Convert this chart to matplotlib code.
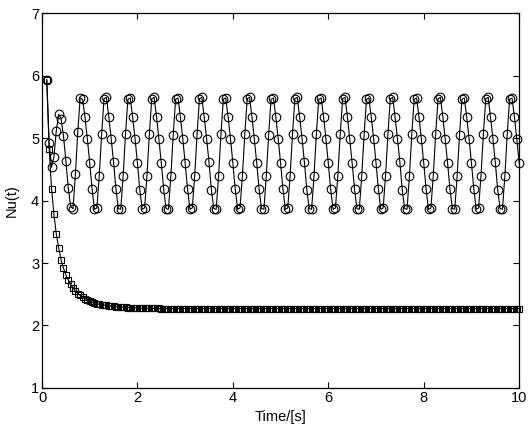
import numpy as np
import matplotlib
matplotlib.use("Agg")
import matplotlib.pyplot as plt

plt.rcParams['font.family'] = ['Liberation Sans', 'DejaVu Sans']

# time samples, dt = 0.05 s, from 0.1 to 10.0
time_s = np.round(np.arange(0.1, 10.0001, 0.05), 2)

# oscillating case (circles)
nu_osc = (
    [5.93, 4.92, 4.53, 4.70, 5.12, 5.38, 5.31, 5.03, 4.64, 4.20, 3.90, 3.87, 4.42, 5.10]
    + [5.64, 5.62, 5.34, 4.99, 4.60, 4.18, 3.86, 3.88, 4.40, 5.06]
    + [5.63, 5.65, 5.34, 4.99, 4.61, 4.18, 3.87, 3.86, 4.39, 5.06]
    + [5.62, 5.64, 5.33, 4.99, 4.60, 4.17, 3.86, 3.88, 4.40, 5.06]
    + [5.63, 5.65, 5.34, 4.98, 4.60, 4.18, 3.87, 3.86, 4.39, 5.05]
    + [5.62, 5.64, 5.34, 4.99, 4.60, 4.18, 3.86, 3.88, 4.40, 5.06]
    + [5.63, 5.65, 5.33, 4.99, 4.61, 4.17, 3.87, 3.86, 4.39, 5.06]
    + [5.62, 5.64, 5.34, 4.99, 4.60, 4.18, 3.86, 3.88, 4.40, 5.06]
    + [5.63, 5.65, 5.34, 4.98, 4.60, 4.18, 3.87, 3.86, 4.39, 5.05]
    + [5.62, 5.64, 5.34, 4.99, 4.60, 4.18, 3.86, 3.88, 4.40, 5.06]
    + [5.63, 5.65, 5.33, 4.99, 4.61, 4.17, 3.87, 3.86, 4.39, 5.06]
    + [5.62, 5.64, 5.34, 4.99, 4.60, 4.18, 3.86, 3.88, 4.40, 5.06]
    + [5.63, 5.65, 5.34, 4.98, 4.60, 4.18, 3.87, 3.86, 4.39, 5.05]
    + [5.62, 5.64, 5.34, 4.99, 4.60, 4.18, 3.86, 3.88, 4.40, 5.06]
    + [5.63, 5.65, 5.33, 4.99, 4.61, 4.17, 3.87, 3.86, 4.39, 5.06]
    + [5.62, 5.64, 5.34, 4.99, 4.60, 4.18, 3.86, 3.88, 4.40, 5.06]
    + [5.63, 5.65, 5.34, 4.98, 4.60, 4.18, 3.87, 3.86, 4.39, 5.05]
    + [5.62, 5.64, 5.34, 4.99, 4.60, 4.18, 3.86, 3.88, 4.40, 5.06]
    + [5.63, 5.65, 5.33, 4.99, 4.61, 4.17, 3.87, 3.86, 4.39, 5.06]
    + [5.62, 5.64, 5.34, 4.99, 4.60]
)

# steady case (squares)
nu_steady = (
    [5.93, 4.83, 4.19, 3.78, 3.46, 3.24, 3.05, 2.92, 2.81, 2.73,
     2.66, 2.60, 2.55, 2.51, 2.48, 2.45, 2.43, 2.41, 2.39, 2.375,
     2.36, 2.35, 2.34, 2.333, 2.326, 2.32, 2.314, 2.309, 2.305, 2.301,
     2.297, 2.294, 2.291, 2.289, 2.287, 2.285, 2.283, 2.281, 2.28, 2.279,
     2.278, 2.277, 2.276, 2.275, 2.274, 2.273, 2.272, 2.272, 2.271, 2.271]
    + [2.27] * 149
)

fig = plt.figure(figsize=(5.29, 4.30), dpi=100)
ax = fig.add_axes([0.0794, 0.0977, 0.902, 0.872])

ax.plot(time_s, nu_steady, '-s', color='black', lw=0.8, ms=4.5,
        mfc='none', mec='black', mew=0.8, clip_on=False)
ax.plot(time_s, nu_osc, '-o', color='black', lw=0.8, ms=6.2,
        mfc='none', mec='black', mew=0.8, clip_on=False)

ax.set_xlim(0, 10)
ax.set_ylim(1, 7)
ax.set_xticks([0, 2, 4, 6, 8, 10])
ax.set_yticks([1, 2, 3, 4, 5, 6, 7])
ax.tick_params(direction='in', top=True, right=True, length=4, width=0.8,
               labelsize=10.5, pad=2)
for sp in ax.spines.values():
    sp.set_linewidth(0.9)

ax.set_xlabel("Time/[s]", fontsize=10.5, labelpad=4)
ax.set_ylabel("Nu(t)", fontsize=10.5, labelpad=9)

fig.savefig("out.png", dpi=100)
